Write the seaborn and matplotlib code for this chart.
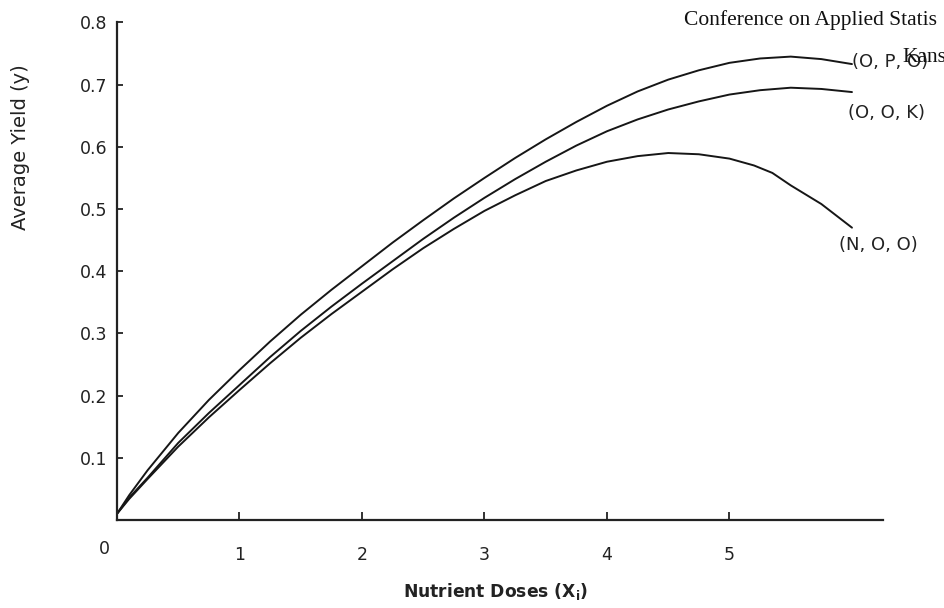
import matplotlib
matplotlib.use("Agg")
import matplotlib.pyplot as plt
import pandas as pd
import seaborn as sns

# values
doses = [0, 0.1, 0.25, 0.5, 0.75, 1, 1.25, 1.5, 1.75, 2, 2.25, 2.5, 2.75, 3,
         3.25, 3.5, 3.75, 4, 4.25, 4.5, 4.75, 5, 5.25, 5.5, 5.75, 6]
yield_opo = [0.010, 0.040, 0.080, 0.140, 0.193, 0.241, 0.287, 0.330, 0.370, 0.408, 0.446, 0.482, 0.517,
             0.550, 0.582, 0.612, 0.640, 0.666, 0.689, 0.708, 0.723, 0.735, 0.742, 0.745, 0.741, 0.733]
yield_ook = [0.010, 0.036, 0.068, 0.124, 0.172, 0.217, 0.262, 0.304, 0.343, 0.380, 0.416, 0.452, 0.486,
             0.518, 0.548, 0.576, 0.602, 0.625, 0.644, 0.660, 0.673, 0.684, 0.691, 0.695, 0.693, 0.688]
doses_noo = [0, 0.1, 0.25, 0.5, 0.75, 1, 1.25, 1.5, 1.75, 2, 2.25, 2.5, 2.75, 3,
             3.25, 3.5, 3.75, 4, 4.25, 4.5, 4.75, 5, 5.2, 5.35, 5.5, 5.75, 6]
yield_noo = [0.010, 0.034, 0.066, 0.118, 0.165, 0.209, 0.252, 0.293, 0.331, 0.367, 0.403, 0.437, 0.468,
             0.497, 0.522, 0.545, 0.562, 0.576, 0.585, 0.590, 0.588, 0.581, 0.570, 0.558, 0.538, 0.508, 0.470]

treatments = ["(O, P, O)", "(O, O, K)", "(N, O, O)"]
x_ticks = [1, 2, 3, 4, 5]
y_ticks = [0.1, 0.2, 0.3, 0.4, 0.5, 0.6, 0.7, 0.8]
y_tick_labels = ["0.1", "0.2", "0.3", "0.4", "0.5", "0.6", "0.7", "0.8"]

df = pd.concat(
    [
        pd.DataFrame({"dose": doses, "yield": yield_opo, "treatment": treatments[0]}),
        pd.DataFrame({"dose": doses, "yield": yield_ook, "treatment": treatments[1]}),
        pd.DataFrame({"dose": doses_noo, "yield": yield_noo, "treatment": treatments[2]}),
    ],
    ignore_index=True,
)

sns.set_style("ticks")
plt.rcParams["font.family"] = ["DejaVu Sans"]

fig = plt.figure(figsize=(9.45, 6.08), dpi=100)
ax = fig.add_axes([117 / 945, 88 / 608, 765.6 / 945, 497.6 / 608])

sns.lineplot(
    data=df,
    x="dose",
    y="yield",
    hue="treatment",
    palette=["#161616"] * 3,
    estimator=None,
    sort=False,
    legend=False,
    linewidth=1.4,
    ax=ax,
)

ax.set_xlim(0, 6.25)
ax.set_ylim(0, 0.8)
sns.despine(ax=ax)
for side in ["left", "bottom"]:
    ax.spines[side].set_linewidth(1.6)
    ax.spines[side].set_color("#222222")

ax.set_xticks(x_ticks)
ax.set_xticklabels([str(t) for t in x_ticks])
ax.set_yticks(y_ticks)
ax.set_yticklabels(y_tick_labels)
ax.tick_params(axis="y", direction="in", length=4, width=1.3, labelsize=12.5, pad=7, colors="#222222")
ax.tick_params(axis="x", direction="in", length=6, width=1.3, labelsize=12.5, pad=19, colors="#222222")

ax.annotate("0", xy=(0, 0), xytext=(-9, -21), textcoords="offset points",
            ha="center", va="center", fontsize=12.5, color="#222222")

ax.set_ylabel("Average Yield (y)", fontsize=14, color="#222222")
ax.yaxis.set_label_coords(-0.114, 0.75)
ax.set_xlabel("Nutrient Doses (X$_\\mathregular{i}$)", fontsize=12.3, fontweight="bold", color="#222222")
ax.xaxis.set_label_coords(0.494, -0.123)

label_pos = {"(O, P, O)": (6.0, 0.736), "(O, O, K)": (5.97, 0.654), "(N, O, O)": (5.89, 0.442)}
for name in treatments:
    lx, ly = label_pos[name]
    ax.text(lx, ly, name, ha="left", va="center", fontsize=13, color="#222222", clip_on=False)

fig.text(684 / 945, 1 - 25 / 608, "Conference on Applied Statis", family="Liberation Serif",
         fontsize=15.5, ha="left", va="baseline", color="#111111")
fig.text(902 / 945, 1 - 62 / 608, "Kans", family="Liberation Serif",
         fontsize=15.5, ha="left", va="baseline", color="#111111")

fig.savefig("out.png", dpi=100)
